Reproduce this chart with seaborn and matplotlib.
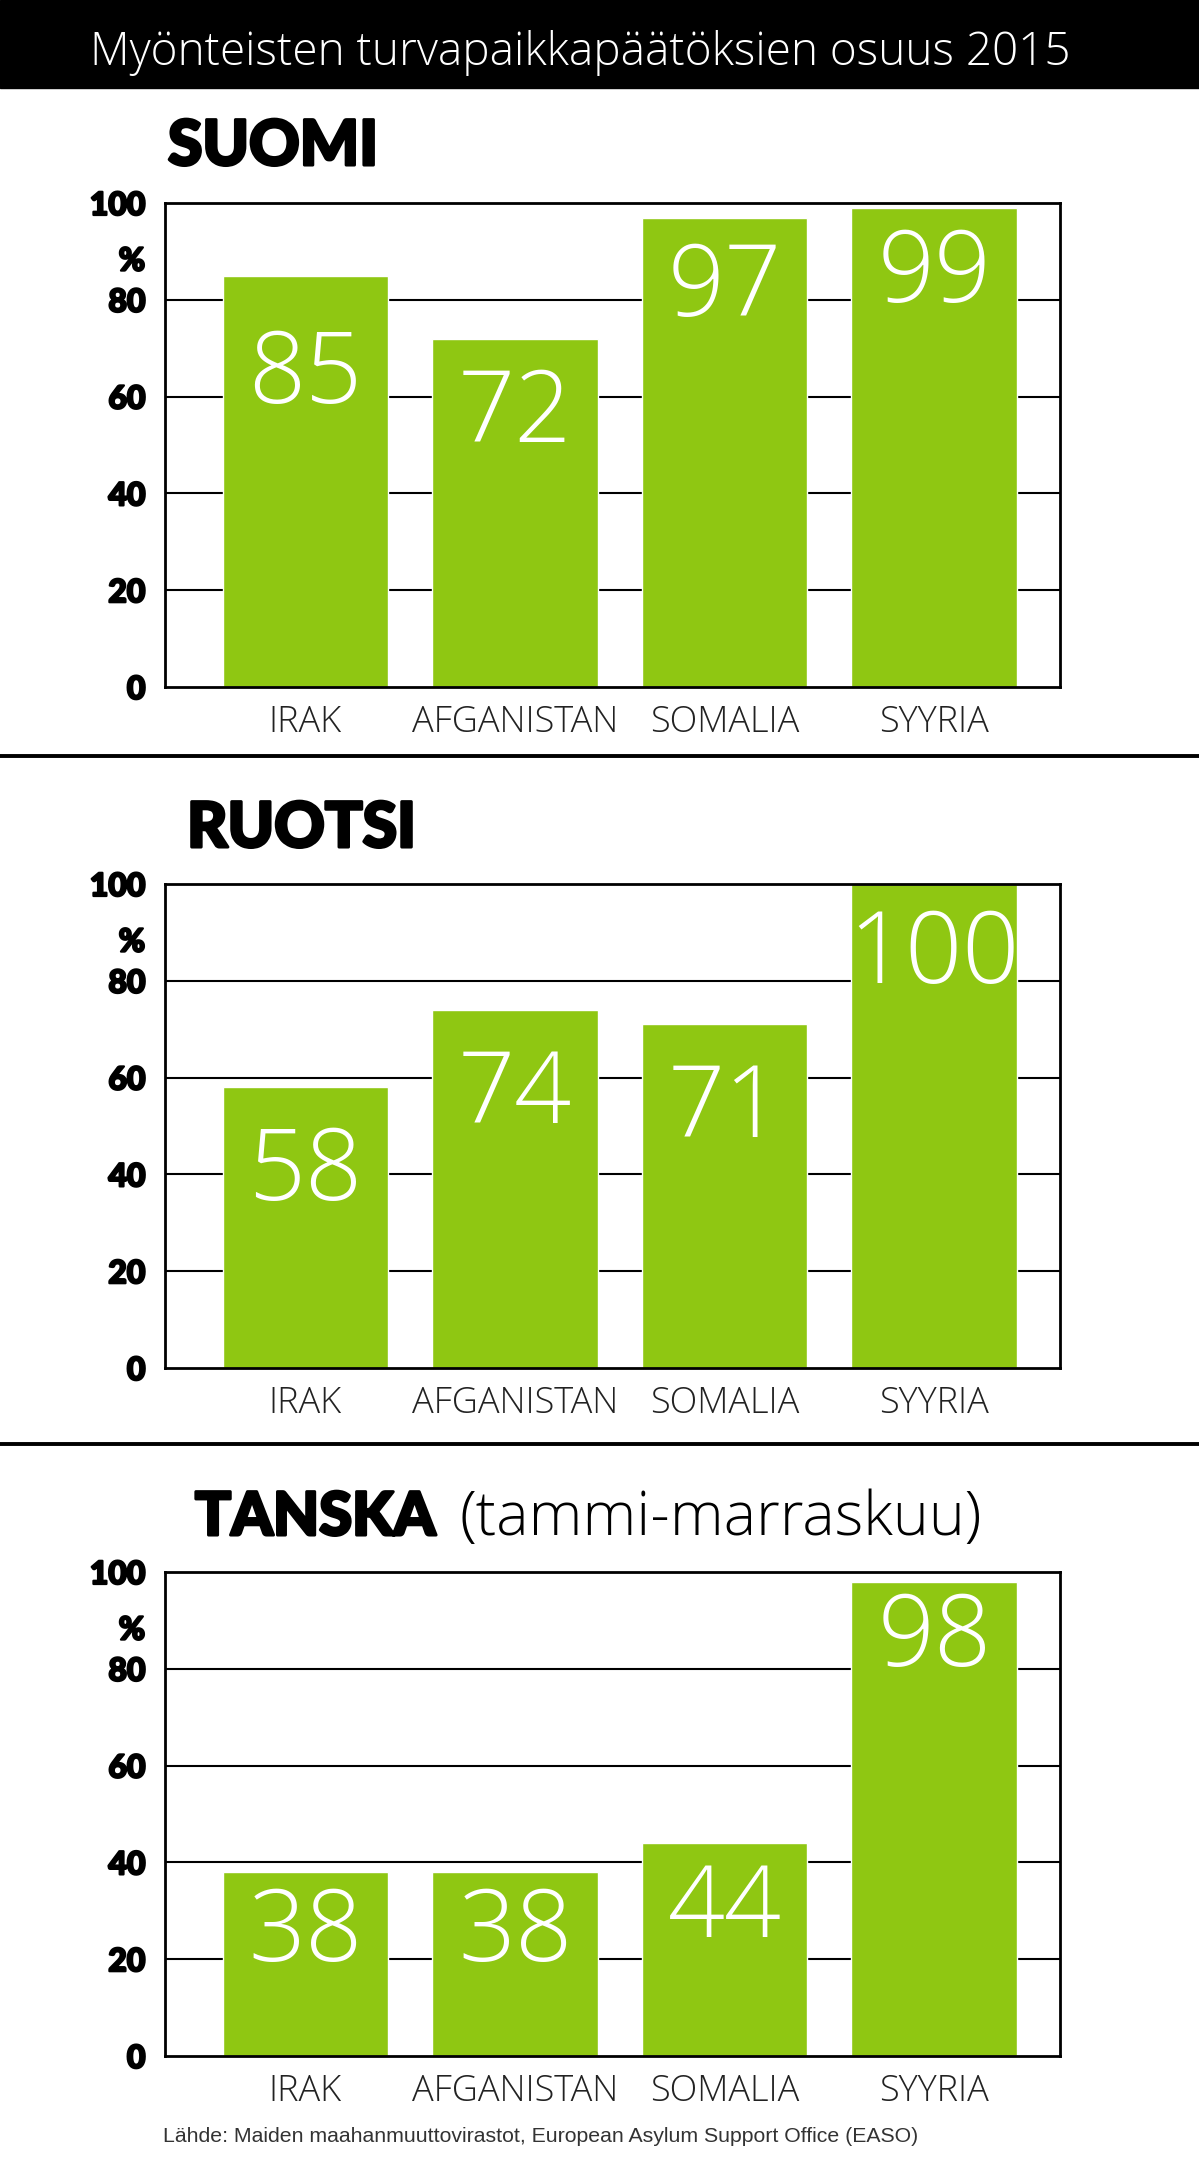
import matplotlib
matplotlib.use("Agg")
import matplotlib.pyplot as plt
import matplotlib.patheffects as pe
import seaborn as sns
from matplotlib.lines import Line2D
from matplotlib.patches import Rectangle

# Data
countries = ["IRAK", "AFGANISTAN", "SOMALIA", "SYYRIA"]
suomi = [85, 72, 97, 99]
ruotsi = [58, 74, 71, 100]
tanska = [38, 38, 44, 98]
y_ticks = [0, 20, 40, 60, 80, 100]

title = "Myönteisten turvapaikkapäätöksien osuus 2015"
source = "Lähde: Maiden maahanmuuttovirastot, European Asylum Support Office (EASO)"

# how far below the bar top the white number sits (in % units)
suomi_drop = [21, 16, 15, 14]
ruotsi_drop = [18, 18, 18, 15]
tanska_drop = [13, 13, 14, 12]

GREEN = "#8fc712"
W, H = 1199, 2167

sns.set_theme(style="white")
plt.rcParams["font.family"] = ["Open Sans", "DejaVu Sans"]

# fake a heavier weight than Lato Bold
heavy = [pe.withStroke(linewidth=1.6, foreground="black")]


def fx(x):
    return x / W


def fy(y):
    return 1 - y / H


fig = plt.figure(figsize=(W / 100, H / 100), dpi=100)

# Header bar
fig.add_artist(Rectangle((0, fy(88)), 1, 88 / H, transform=fig.transFigure,
                         color="black", zorder=0))
fig.text(fx(90), fy(65), title, color="white", fontsize=33,
         fontweight="light", va="baseline")

# separators
for yy in [756, 1444]:
    fig.add_artist(Line2D([0, 1], [fy(yy), fy(yy)], color="black", lw=2.8,
                          transform=fig.transFigure))


def panel(top, values, drops):
    bottom = top + 484
    ax = fig.add_axes([fx(165), fy(bottom), 895 / W, 484 / H])
    for g in [20, 40, 60, 80]:
        ax.axhline(g, color="black", lw=1.5, zorder=0)
    sns.barplot(x=countries, y=values, color=GREEN, saturation=1, width=0.79,
                ax=ax, zorder=2)
    for i, (v, d) in enumerate(zip(values, drops)):
        ax.text(i, v - d, str(v), ha="center", va="center", color="white",
                fontsize=72, fontweight="light", zorder=3)
    ax.set_xlim(-0.67, 3.6)
    ax.set_ylim(0, 100)
    ax.set_yticks(y_ticks)
    ax.set_yticklabels([str(t) for t in y_ticks], family="Lato",
                       fontweight="black", fontsize=23, color="black")
    for lab in ax.get_yticklabels():
        lab.set_path_effects(heavy)
    ax.tick_params(axis="y", length=0, pad=14)
    ax.tick_params(axis="x", length=0, pad=12, labelsize=26,
                   labelcolor="#222222")
    for lab in ax.get_xticklabels():
        lab.set_fontweight("light")
    ax.text(-0.765, 88, "%", family="Lato", fontweight="black", fontsize=23,
            color="black", ha="right", va="center", clip_on=False,
            path_effects=heavy)
    ax.set_xlabel("")
    ax.set_ylabel("")
    for s in ax.spines.values():
        s.set_color("black")
        s.set_linewidth(2)
        s.set_visible(True)
    return ax


panel(203, suomi, suomi_drop)
panel(884, ruotsi, ruotsi_drop)
panel(1572, tanska, tanska_drop)

for label, x, y, size in [("SUOMI", 168, 165, 45), ("RUOTSI", 187, 847, 45),
                          ("TANSKA", 195, 1535, 43)]:
    fig.text(fx(x), fy(y), label, family="Lato", fontweight="black",
             fontsize=size, color="black", va="baseline",
             path_effects=[pe.withStroke(linewidth=2.2, foreground="black")])
fig.text(fx(459), fy(1535), "(tammi-marraskuu)", fontsize=44,
         fontweight="light", color="black", va="baseline")

fig.text(fx(163), fy(2136), source, family="Liberation Sans", fontsize=15.3,
         color="#333333", va="center")

fig.savefig("out.png", dpi=100)
